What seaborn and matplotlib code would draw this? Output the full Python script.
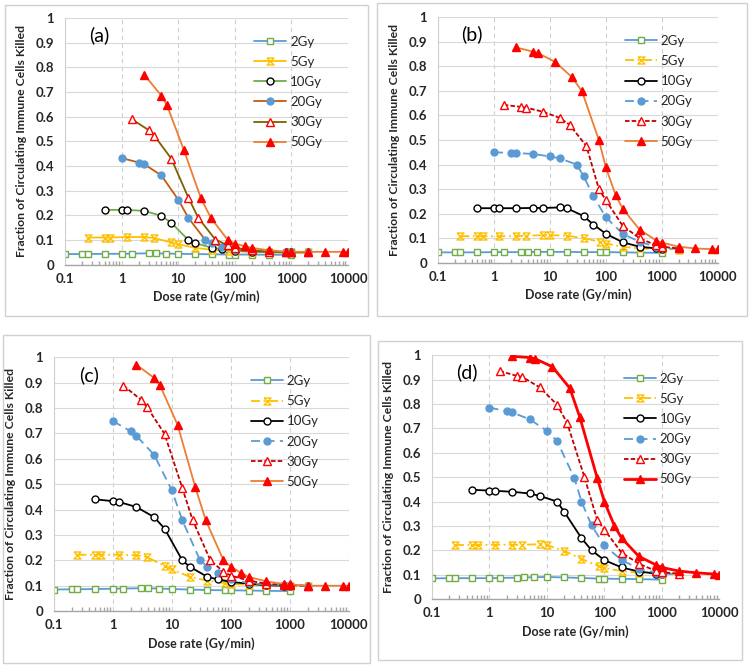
import numpy as np
import pandas as pd
import matplotlib
matplotlib.use("Agg")
import matplotlib.pyplot as plt
import seaborn as sns
from matplotlib.path import Path
from matplotlib.patches import Rectangle
from matplotlib.ticker import LogLocator, FixedLocator, NullFormatter

# dose rates (Gy/min) per delivered dose
labels = ["2Gy", "5Gy", "10Gy", "20Gy", "30Gy", "50Gy"]
x_2gy = [0.1, 0.2, 0.25, 0.5, 1, 1.5, 3, 4, 6, 10, 20, 40, 80, 100, 200, 400, 1000]
x_5gy = [0.25, 0.5, 0.625, 1.25, 2.5, 3.75, 7.5, 10, 20, 40, 80, 100, 200, 400, 1000, 2000]
x_10gy = [0.5, 1, 1.25, 2.5, 5, 7.5, 15, 20, 40, 60, 100, 200, 400, 800, 1000]
x_20gy = [1, 2, 2.5, 5, 10, 15, 30, 40, 60, 100, 200, 400, 800, 1000, 2000]
x_30gy = [1.5, 3, 3.75, 7.5, 15, 22.5, 45, 75, 100, 200, 400, 800, 1000, 2000]
x_50gy = [2.5, 5, 6.25, 12.5, 25, 37.5, 75, 100, 150, 200, 400, 800, 1000, 2000, 4000, 8000, 10000]
x_all = [x_2gy, x_5gy, x_10gy, x_20gy, x_30gy, x_50gy]

# panel (a)
a_2gy = [0.043, 0.043, 0.043, 0.044, 0.044, 0.045, 0.046, 0.046, 0.045, 0.044, 0.043, 0.042, 0.041, 0.041, 0.041, 0.040, 0.040]
a_5gy = [0.110, 0.110, 0.110, 0.112, 0.112, 0.108, 0.090, 0.083, 0.068, 0.060, 0.056, 0.055, 0.052, 0.050, 0.050, 0.050]
a_10gy = [0.222, 0.222, 0.222, 0.218, 0.198, 0.170, 0.100, 0.087, 0.068, 0.063, 0.057, 0.052, 0.050, 0.050, 0.050]
a_20gy = [0.432, 0.414, 0.407, 0.362, 0.263, 0.190, 0.100, 0.088, 0.072, 0.060, 0.055, 0.052, 0.050, 0.050, 0.050]
a_30gy = [0.590, 0.545, 0.523, 0.430, 0.272, 0.190, 0.102, 0.078, 0.068, 0.058, 0.053, 0.051, 0.050, 0.050]
a_50gy = [0.770, 0.685, 0.648, 0.465, 0.270, 0.190, 0.100, 0.085, 0.075, 0.068, 0.058, 0.053, 0.052, 0.052, 0.052, 0.052, 0.052]

# panel (b)
b_2gy = [0.042, 0.042, 0.042, 0.042, 0.043, 0.043, 0.043, 0.043, 0.044, 0.044, 0.044, 0.043, 0.043, 0.043, 0.042, 0.041, 0.040]
b_5gy = [0.108, 0.108, 0.108, 0.108, 0.108, 0.110, 0.112, 0.112, 0.110, 0.100, 0.085, 0.078, 0.065, 0.058, 0.055, 0.053]
b_10gy = [0.222, 0.222, 0.222, 0.222, 0.223, 0.223, 0.225, 0.222, 0.190, 0.155, 0.118, 0.083, 0.065, 0.058, 0.057]
b_20gy = [0.450, 0.447, 0.447, 0.443, 0.433, 0.425, 0.400, 0.353, 0.270, 0.185, 0.118, 0.085, 0.065, 0.060, 0.055]
b_30gy = [0.643, 0.635, 0.632, 0.615, 0.590, 0.562, 0.475, 0.300, 0.255, 0.150, 0.100, 0.070, 0.065, 0.058]
b_50gy = [0.877, 0.860, 0.853, 0.818, 0.755, 0.698, 0.500, 0.388, 0.275, 0.220, 0.135, 0.090, 0.082, 0.065, 0.058, 0.055, 0.055]

# panel (c)
c_2gy = [0.085, 0.086, 0.086, 0.087, 0.088, 0.089, 0.090, 0.090, 0.089, 0.087, 0.085, 0.083, 0.082, 0.082, 0.081, 0.080, 0.079]
c_5gy = [0.222, 0.222, 0.222, 0.222, 0.220, 0.213, 0.178, 0.165, 0.135, 0.120, 0.110, 0.107, 0.104, 0.102, 0.100, 0.100]
c_10gy = [0.440, 0.433, 0.430, 0.410, 0.370, 0.325, 0.200, 0.175, 0.135, 0.125, 0.115, 0.108, 0.102, 0.100, 0.100]
c_20gy = [0.748, 0.708, 0.690, 0.615, 0.475, 0.358, 0.200, 0.175, 0.150, 0.125, 0.110, 0.105, 0.102, 0.100, 0.100]
c_30gy = [0.888, 0.832, 0.805, 0.698, 0.485, 0.358, 0.200, 0.155, 0.140, 0.120, 0.108, 0.103, 0.102, 0.100]
c_50gy = [0.970, 0.918, 0.890, 0.733, 0.487, 0.358, 0.200, 0.175, 0.150, 0.135, 0.117, 0.107, 0.105, 0.100, 0.100, 0.100, 0.100]

# panel (d)
d_2gy = [0.085, 0.086, 0.086, 0.086, 0.086, 0.087, 0.088, 0.089, 0.090, 0.091, 0.089, 0.087, 0.084, 0.084, 0.083, 0.082, 0.080]
d_5gy = [0.222, 0.222, 0.222, 0.223, 0.223, 0.223, 0.225, 0.222, 0.198, 0.165, 0.135, 0.128, 0.115, 0.108, 0.104, 0.102]
d_10gy = [0.448, 0.445, 0.444, 0.440, 0.433, 0.423, 0.400, 0.358, 0.250, 0.200, 0.160, 0.130, 0.113, 0.105, 0.105]
d_20gy = [0.785, 0.770, 0.765, 0.737, 0.690, 0.648, 0.497, 0.400, 0.302, 0.220, 0.160, 0.125, 0.108, 0.105, 0.102]
d_30gy = [0.935, 0.915, 0.910, 0.868, 0.797, 0.722, 0.500, 0.325, 0.285, 0.190, 0.145, 0.115, 0.110, 0.105]
d_50gy = [0.995, 0.990, 0.985, 0.952, 0.865, 0.745, 0.497, 0.400, 0.300, 0.250, 0.175, 0.140, 0.130, 0.115, 0.108, 0.103, 0.100]

panels = {
    "(a)": [a_2gy, a_5gy, a_10gy, a_20gy, a_30gy, a_50gy],
    "(b)": [b_2gy, b_5gy, b_10gy, b_20gy, b_30gy, b_50gy],
    "(c)": [c_2gy, c_5gy, c_10gy, c_20gy, c_30gy, c_50gy],
    "(d)": [d_2gy, d_5gy, d_10gy, d_20gy, d_30gy, d_50gy],
}

BLUE = "#5B9BD5"
GREEN = "#70AD47"
GOLD = "#FFC000"
ORANGE = "#ED7D31"
RED = "#FF0000"
DKRED = "#C00000"

# excel-like "star" marker: x with bars
hourglass = Path([(-1, 1), (1, 1), (-1, -1), (1, -1), (-1, 1)],
                 [Path.MOVETO, Path.LINETO, Path.LINETO, Path.LINETO, Path.LINETO])

# marker styles shared by all panels
marker_kw = [
    dict(marker="s", markerfacecolor="white", markeredgecolor=GREEN, markersize=5),
    dict(marker=hourglass, markerfacecolor="none", markeredgecolor=GOLD, markersize=5),
    dict(marker="o", markerfacecolor="white", markeredgecolor="black", markersize=5),
    dict(marker="o", markerfacecolor=BLUE, markeredgecolor=BLUE, markersize=5),
    dict(marker="^", markerfacecolor="white", markeredgecolor=RED, markersize=5.5),
    dict(marker="^", markerfacecolor=RED, markeredgecolor=RED, markersize=5.5),
]

line_a = [
    dict(color=BLUE, ls="-"), dict(color=GOLD, ls="-"), dict(color=GREEN, ls="-"),
    dict(color="#C55A11", ls="-"), dict(color="#7F6000", ls="-"), dict(color=ORANGE, ls="-"),
]
line_b = [
    dict(color=BLUE, ls="-"), dict(color=GOLD, ls=(0, (5, 2, 1, 2))), dict(color="black", ls="-"),
    dict(color=BLUE, ls=(0, (5, 3))), dict(color=DKRED, ls=(0, (2.5, 1.2))), dict(color=ORANGE, ls="-"),
]
line_d = line_b[:5] + [dict(color=RED, ls="-", lw=2.0)]
line_styles = {"(a)": line_a, "(b)": line_b, "(c)": line_b, "(d)": line_d}

# axes rectangles (figure fraction) and panel frames (pixels)
axes_pos = {
    "(a)": [0.087, 0.602, 0.377, 0.371],
    "(b)": [0.584, 0.605, 0.373, 0.369],
    "(c)": [0.072, 0.081, 0.393, 0.382],
    "(d)": [0.576, 0.099, 0.383, 0.367],
}
frames = {
    "(a)": (5, 5, 368, 316),
    "(b)": (377, 3, 747, 316),
    "(c)": (3, 335, 370, 663),
    "(d)": (378, 341, 742, 660),
}

sns.set_theme(style="white")
plt.rcParams["font.family"] = ["Lato", "DejaVu Sans"]

W, H = 750, 665
fig = plt.figure(figsize=(W / 100, H / 100), dpi=100)

for name, (x0, y0, x1, y1) in frames.items():
    fig.patches.append(Rectangle((x0 / W, 1 - y1 / H), (x1 - x0) / W, (y1 - y0) / H,
                                 transform=fig.transFigure, fill=False,
                                 edgecolor="#d0d0d0", lw=1.0))

for name, series in panels.items():
    ax = fig.add_axes(axes_pos[name])
    for i, (lab, xs, ys) in enumerate(zip(labels, x_all, series)):
        df = pd.DataFrame({"rate": xs, "frac": ys})
        kw = dict(lw=1.3)
        kw.update(line_styles[name][i])
        kw.update(marker_kw[i])
        sns.lineplot(data=df, x="rate", y="frac", ax=ax, sort=False, estimator=None,
                     label=lab, markeredgewidth=1.0, **kw)

    ax.set_xscale("log")
    ax.set_xlim(0.1, 10000)
    ax.set_ylim(0, 1)
    ax.xaxis.set_major_locator(FixedLocator([0.1, 1, 10, 100, 1000, 10000]))
    ax.set_xticklabels(["0.1", "1", "10", "100", "1000", "10000"])
    ax.xaxis.set_minor_locator(LogLocator(base=10, subs=np.arange(2, 10)))
    ax.xaxis.set_minor_formatter(NullFormatter())
    ax.set_yticks(np.arange(0, 1.01, 0.1))
    ax.set_yticklabels(["0"] + [f"{v:.1f}" for v in np.arange(0.1, 0.95, 0.1)] + ["1"])

    ax.grid(axis="y", color="#d9d9d9", lw=0.8, ls="-")
    ax.grid(axis="x", which="major", color="#d0d0d0", lw=0.8, ls=(0, (4, 3)))
    for s in ["top", "right"]:
        ax.spines[s].set_visible(False)
    ax.spines["left"].set_color("#d0d0d0")
    ax.spines["left"].set_linewidth(0.8)
    ax.spines["bottom"].set_color("#a6a6a6")
    ax.spines["bottom"].set_linewidth(1.0)
    ax.tick_params(axis="x", which="major", direction="in", length=5, color="#a6a6a6",
                   labelsize=9.5, pad=6)
    ax.tick_params(axis="x", which="minor", direction="in", length=3, color="#a6a6a6", bottom=True)
    ax.tick_params(axis="y", length=0, labelsize=9.5, pad=8)
    for t in ax.get_xticklabels() + ax.get_yticklabels():
        t.set_fontweight("bold")
        t.set_color("#262626")

    ax.set_xlabel("Dose rate (Gy/min)", fontsize=9, fontweight="bold", color="#262626", labelpad=4)
    ax.set_ylabel("Fraction of Circulating Immune Cells Killed", fontsize=8.8,
                  fontweight="bold", color="#262626", labelpad=6)

    ax.text(0.12, 0.93, name, transform=ax.transAxes, fontsize=14, ha="center", va="center",
            color="black")

    handles, labs = ax.get_legend_handles_labels()
    ax.legend(handles, labs, loc="upper left", bbox_to_anchor=(0.65, 0.95), frameon=False,
              fontsize=9.5, labelspacing=0.62, handlelength=2.4, handletextpad=0.3,
              borderaxespad=0)

fig.savefig("out.png", dpi=100)
